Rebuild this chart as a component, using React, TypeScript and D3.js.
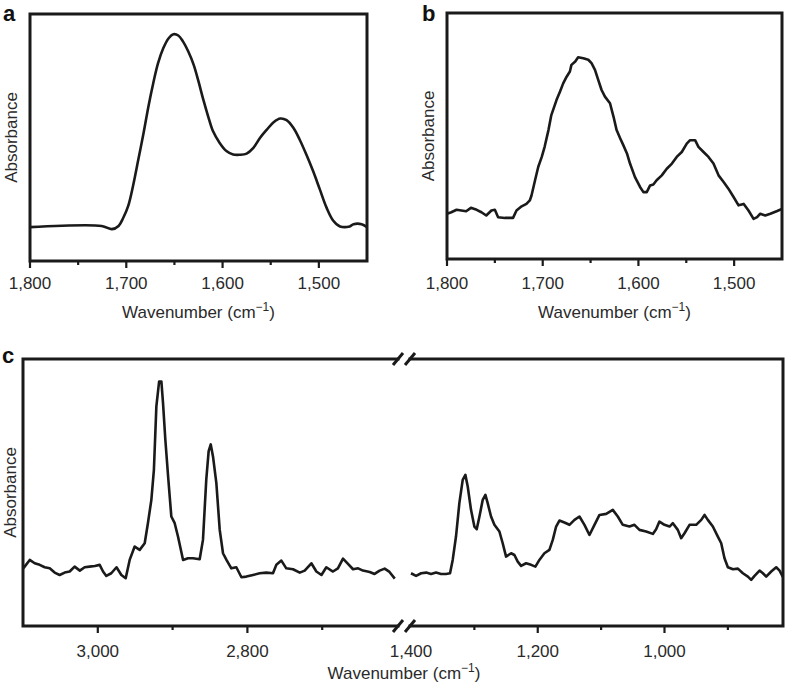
import React from "react";
import * as d3 from "d3";

// ---------- Data ----------
const A_WN = [1800,1725.6,1715,1708,1703,1698,1693,1687.5,1682,1677,1672,1667,1661.5,1656,1651,1646,1641,1635.6,1630,1625,1620,1615,1610,1603,1596,1589,1582,1575,1568,1561,1554,1547,1540,1533.5,1526.5,1520,1513,1506,1499,1492,1485,1478,1468,1464,1455.6,1450];
const A_ABS = [0.137,0.142,0.129,0.142,0.176,0.223,0.304,0.411,0.519,0.626,0.720,0.801,0.862,0.902,0.918,0.913,0.888,0.848,0.794,0.727,0.653,0.586,0.526,0.478,0.445,0.431,0.430,0.435,0.458,0.499,0.532,0.562,0.577,0.570,0.539,0.492,0.431,0.364,0.290,0.216,0.163,0.140,0.140,0.149,0.149,0.137];

const B_WN = [1800,1795.5,1790,1785,1780,1775,1769,1764,1759,1753.6,1750,1746.6,1739.6,1731,1727.4,1722,1717,1713.5,1711.7,1708,1704.7,1701,1698,1694,1691,1685.6,1682,1678.6,1675,1671.6,1670,1666,1663,1657.6,1652.4,1649,1645.4,1642,1638.5,1635,1629.7,1626,1622.8,1619,1615.8,1612,1608.8,1603.6,1598.3,1594.8,1591.3,1587.8,1584.4,1581,1575.6,1570.4,1565,1560,1554.7,1549.5,1546,1540.8,1537.3,1532,1526.8,1521.6,1516.3,1511,1506,1500.6,1495.4,1490,1485,1479.7,1476,1472.7,1467.5,1462.2,1455,1450];
const B_ABS = [0.184,0.190,0.200,0.197,0.194,0.208,0.200,0.190,0.177,0.197,0.200,0.170,0.167,0.167,0.197,0.214,0.224,0.238,0.258,0.320,0.374,0.415,0.456,0.524,0.585,0.646,0.680,0.714,0.741,0.762,0.789,0.803,0.820,0.816,0.810,0.796,0.769,0.728,0.687,0.660,0.633,0.578,0.524,0.490,0.463,0.429,0.388,0.333,0.293,0.272,0.272,0.299,0.303,0.320,0.340,0.367,0.388,0.415,0.435,0.469,0.483,0.483,0.456,0.435,0.415,0.388,0.340,0.313,0.286,0.252,0.218,0.224,0.197,0.163,0.170,0.184,0.177,0.184,0.195,0.204];

const C1_WN = [3100,3097.8,3091,3084.4,3077.7,3071,3064.3,3057.7,3051,3044.3,3037.6,3031,3024,3017.6,3011,3004,2997.5,2993,2988.6,2982,2975,2968.5,2962.7,2957.4,2950.7,2944,2937.3,2933,2928.4,2925,2921.7,2918,2915,2912.8,2909.7,2906,2901.7,2897.2,2892.8,2886,2879.4,2872.7,2863.8,2859.4,2855,2851.8,2849,2846,2841.5,2837,2832.6,2828,2821.5,2814.8,2808,2801.4,2792.5,2783.6,2774.7,2765.8,2761.3,2754.6,2748,2739,2730,2723.4,2714.5,2707.8,2701,2694.5,2685.6,2679,2672.2,2665.5,2658.8,2652,2645.5,2636.5,2630,2623.2,2616.5,2610,2603];
const C1_ABS = [0.215,0.2225,0.2475,0.235,0.229,0.22,0.216,0.2,0.191,0.2,0.204,0.2225,0.2075,0.22,0.2225,0.225,0.229,0.204,0.1875,0.1975,0.22,0.191,0.179,0.2475,0.2975,0.285,0.31,0.385,0.4725,0.585,0.8225,0.916,0.916,0.835,0.6975,0.56,0.41,0.385,0.335,0.2475,0.254,0.254,0.25,0.3225,0.5475,0.655,0.68,0.635,0.535,0.36,0.2725,0.2475,0.216,0.22,0.1825,0.185,0.191,0.1975,0.2,0.1975,0.229,0.245,0.216,0.2125,0.2,0.2075,0.235,0.204,0.191,0.22,0.204,0.216,0.2525,0.2325,0.2125,0.216,0.2075,0.2025,0.195,0.2075,0.215,0.2025,0.1775];

const C2_WN = [1400,1392,1384,1376,1368.4,1360.5,1352.6,1344.7,1338.4,1334.2,1329,1323.7,1318.4,1314.2,1310.5,1305.3,1300,1296.3,1292,1286.8,1282.6,1279,1273.7,1268.4,1260.5,1255.3,1250,1242,1236.8,1231.6,1226.3,1218.4,1210.5,1203.7,1197.4,1189.5,1181.6,1176.3,1171,1165.8,1157.9,1150,1142,1134.2,1126.3,1118.4,1110.5,1102.6,1092,1081.6,1073.7,1065.8,1055.3,1047.4,1039.5,1029,1018.4,1013.2,1008,1000,992,986.8,979,973.7,968.4,960.5,950,942,936.8,931.6,923.7,915.8,910.5,905.3,900,892,884.2,876.3,868.4,863.2,857.9,850,844.7,839.5,831.6,823.7,818.4,813];
const C2_ABS = [0.1975,0.1875,0.1975,0.2,0.195,0.2,0.195,0.195,0.1975,0.2475,0.335,0.46,0.5475,0.566,0.5225,0.435,0.3725,0.3625,0.41,0.4725,0.491,0.46,0.41,0.379,0.354,0.31,0.26,0.2725,0.266,0.241,0.225,0.235,0.229,0.2225,0.2475,0.2725,0.285,0.3225,0.3725,0.395,0.3875,0.379,0.3975,0.41,0.379,0.341,0.379,0.416,0.42,0.435,0.41,0.379,0.3725,0.379,0.36,0.354,0.345,0.3625,0.391,0.379,0.3725,0.385,0.36,0.329,0.3475,0.379,0.379,0.3975,0.416,0.3975,0.3725,0.335,0.31,0.254,0.22,0.2125,0.215,0.1975,0.185,0.1725,0.1875,0.2075,0.1975,0.185,0.204,0.22,0.2075,0.1825];

const AB_TICKS = [1800, 1750, 1700, 1650, 1600, 1550, 1500];
const AB_LABELS = [1800, 1700, 1600, 1500];
const C1_TICKS = [3000, 2900, 2800, 2700];
const C1_LABELS = [3000, 2800];
const C2_TICKS = [1400, 1300, 1200, 1100, 1000, 900];
const C2_LABELS = [1400, 1200, 1000];

// ---------- Styling ----------
const FONT = "'Liberation Sans', Arial, Helvetica, sans-serif";
const INK = "#1a1a1a";
const TXT = "#2a2a2a";
const fmt = d3.format(",");

type Pt = [number, number];
const zip = (xs: number[], ys: number[]): Pt[] => xs.map((x, i) => [x, ys[i]] as Pt);

function XTitle({ x, y }: { x: number; y: number }) {
  return (
    <text x={x} y={y} textAnchor="middle" fontFamily={FONT} fontSize={17} fill={TXT}>
      Wavenumber (cm
      <tspan fontSize={12} dy={-7}>−1</tspan>
      <tspan dy={7}>)</tspan>
    </text>
  );
}

function YTitle({ x, y }: { x: number; y: number }) {
  return (
    <text transform={`translate(${x},${y}) rotate(-90)`} textAnchor="middle" fontFamily={FONT} fontSize={17} fill={TXT}>
      Absorbance
    </text>
  );
}

function Ticks({ scale, ticks, labels, y, labelY, major }: { scale: d3.ScaleLinear<number, number>; ticks: number[]; labels: number[]; y: number; labelY: number; major: number[] }) {
  return (
    <g>
      {ticks.map((t) => (
        <line key={"t" + t} x1={scale(t)} x2={scale(t)} y1={y} y2={y + (major.includes(t) ? 7 : 4)} stroke={INK} strokeWidth={2.2} />
      ))}
      {labels.map((t) => (
        <text key={"l" + t} x={scale(t)} y={labelY} textAnchor="middle" fontFamily={FONT} fontSize={17} fill={TXT}>
          {fmt(t)}
        </text>
      ))}
    </g>
  );
}

function Panel({ letter, left, right, top, bottom, wn, abs, smooth, letterX }: any) {
  const x = d3.scaleLinear().domain([1800, 1450]).range([left, right]);
  const y = d3.scaleLinear().domain([0, 1]).range([bottom, top]);
  const line = d3
    .line<Pt>()
    .x((d) => x(d[0]))
    .y((d) => y(d[1]))
    .curve(smooth ? d3.curveCatmullRom.alpha(0.5) : d3.curveLinear);
  return (
    <g>
      <text x={letterX} y={21} fontFamily={FONT} fontWeight="bold" fontSize={22} fill="#111">{letter}</text>
      <path d={line(zip(wn, abs)) || ""} fill="none" stroke={INK} strokeWidth={2.6} strokeLinejoin="round" />
      <rect x={left} y={top} width={right - left} height={bottom - top} fill="none" stroke={INK} strokeWidth={3} />
      <Ticks scale={x} ticks={AB_TICKS} labels={AB_LABELS} y={bottom} labelY={289} major={AB_LABELS} />
      <XTitle x={(left + right) / 2} y={318} />
      <YTitle x={left - 13} y={(top + bottom) / 2} />
    </g>
  );
}

function PanelC() {
  const left = 23, right = 783, top = 359, bottom = 626;
  const brk1 = 398, brk2 = 410;
  const x1 = d3.scaleLinear().domain([3100, 2600]).range([left, 397]);
  const x2 = d3.scaleLinear().domain([1400, 813]).range([411, right]);
  const y = d3.scaleLinear().domain([0, 1]).range([bottom, top]);
  const l1 = d3.line<Pt>().x((d) => x1(d[0])).y((d) => y(d[1]));
  const l2 = d3.line<Pt>().x((d) => x2(d[0])).y((d) => y(d[1]));
  const slash = (cx: number, cy: number, k: string) => (
    <line key={k} x1={cx - 5} y1={cy + 6} x2={cx + 5} y2={cy - 6} stroke={INK} strokeWidth={3} />
  );
  return (
    <g>
      <text x={2} y={363} fontFamily={FONT} fontWeight="bold" fontSize={22} fill="#111">c</text>
      <path d={l1(zip(C1_WN, C1_ABS)) || ""} fill="none" stroke={INK} strokeWidth={2.6} strokeLinejoin="round" />
      <path d={l2(zip(C2_WN, C2_ABS)) || ""} fill="none" stroke={INK} strokeWidth={2.6} strokeLinejoin="round" />
      {/* frame with break */}
      <path
        d={`M${brk1},${top} H${left} V${bottom} H${brk1} M${brk2},${top} H${right} V${bottom} H${brk2}`}
        fill="none"
        stroke={INK}
        strokeWidth={3}
        strokeLinecap="square"
      />
      {slash(brk1, top, "s1")}
      {slash(brk2, top, "s2")}
      {slash(brk1, bottom, "s3")}
      {slash(brk2, bottom, "s4")}
      <Ticks scale={x1} ticks={C1_TICKS} labels={C1_LABELS} y={bottom} labelY={657} major={C1_LABELS} />
      <Ticks scale={x2} ticks={C2_TICKS.filter((t) => t !== 1400)} labels={C2_LABELS} y={bottom} labelY={657} major={C2_LABELS} />
      <XTitle x={404} y={679} />
      <YTitle x={16} y={(top + bottom) / 2} />
    </g>
  );
}

export default function App() {
  return (
    <svg width={788} height={685} style={{ position: "absolute", left: 0, top: 0, background: "#fff" }}>
      <rect width={788} height={685} fill="#fff" />
      <Panel letter="a" letterX={3} left={30} right={367} top={14} bottom={261} wn={A_WN} abs={A_ABS} smooth />
      <Panel letter="b" letterX={422} left={447} right={782} top={13} bottom={259} wn={B_WN} abs={B_ABS} smooth={false} />
      <PanelC />
    </svg>
  );
}
